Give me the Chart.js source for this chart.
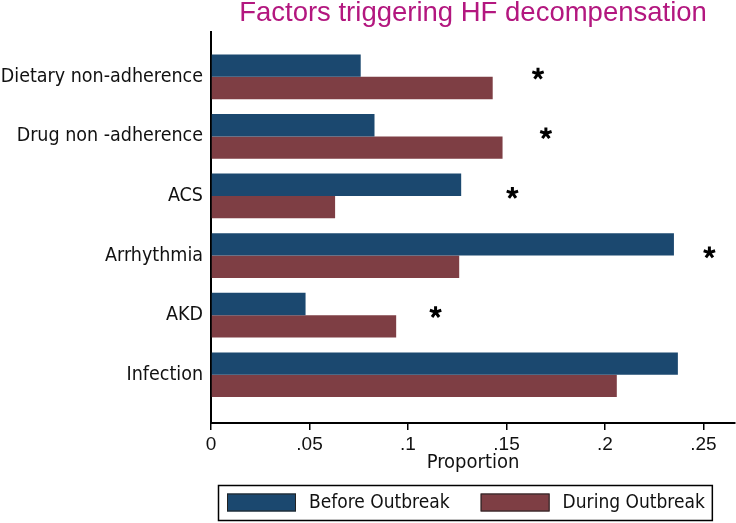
<!DOCTYPE html>
<html><head><meta charset="utf-8">
<script src="https://cdn.jsdelivr.net/npm/chart.js@4"></script>
<style>html,body{margin:0;padding:0;background:#fff}#wrap{width:736px;height:523px;position:relative}</style>
</head><body><div id="wrap"><canvas id="c" width="736" height="523"></canvas></div>
<script>
const categories = ["Dietary non-adherence", "Drug non -adherence", "ACS", "Arrhythmia", "AKD", "Infection"];
const beforeOutbreak = [0.076, 0.083, 0.127, 0.235, 0.048, 0.237];
const duringOutbreak = [0.143, 0.148, 0.063, 0.126, 0.094, 0.206];
const significanceX = [0.166, 0.170, 0.153, 0.253, 0.114, null];
const xTickValues = [0, 0.05, 0.1, 0.15, 0.2, 0.25];
const seriesNames = ["Before Outbreak", "During Outbreak"];
const chartTitle = "Factors triggering HF decompensation";
const xAxisTitle = "Proportion";

const COLORS = ["#1b486f", "#7e3e44"];
const NARROW = "'Liberation Sans Narrow', 'DejaVu Sans Condensed', 'Arial Narrow', sans-serif";
const SANS = "'Liberation Sans', Arial, sans-serif";

const starPlugin = {
  id: 'stars',
  afterDatasetsDraw(chart) {
    const xs = chart.scales.x, ys = chart.scales.y, ctx = chart.ctx;
    ctx.save();
    ctx.strokeStyle = '#000';
    ctx.lineWidth = 3;
    ctx.lineCap = 'butt';
    significanceX.forEach((v, i) => {
      if (v == null) return;
      const cx = xs.getPixelForValue(v), cy = ys.getPixelForValue(i) - 3;
      const r = 6;
      ctx.beginPath();
      for (let k = 0; k < 5; k++) {
        const a = -Math.PI / 2 + k * 2 * Math.PI / 5;
        ctx.moveTo(cx, cy);
        ctx.lineTo(cx + r * Math.cos(a), cy + r * Math.sin(a));
      }
      ctx.stroke();
    });
    ctx.restore();
  }
};

const legendPlugin = {
  id: 'boxLegend',
  afterDraw(chart) {
    const ctx = chart.ctx, ca = chart.chartArea;
    ctx.save();
    ctx.font = "19px " + NARROW;
    const sw = 69, sh = 18, padL = 9, gap = 13, itemGap = 31, padR = 7;
    const tw = seriesNames.map(s => ctx.measureText(s).width);
    const w = padL + sw + gap + tw[0] + itemGap + sw + gap + tw[1] + padR;
    const h = 35;
    const cx = (ca.left + ca.right) / 2 - 8;
    const left = Math.round(cx - w / 2), top = chart.height - 38;
    ctx.strokeStyle = '#000';
    ctx.lineWidth = 1.5;
    ctx.strokeRect(left + 0.5, top + 0.5, w, h);
    let x = left + padL;
    const my = top + h / 2;
    seriesNames.forEach((s, i) => {
      ctx.fillStyle = COLORS[i];
      ctx.fillRect(x, my - sh / 2, sw, sh);
      ctx.strokeStyle = '#222';
      ctx.lineWidth = 1;
      ctx.strokeRect(x + 0.5, my - sh / 2 + 0.5, sw - 1, sh - 1);
      x += sw + gap;
      ctx.fillStyle = '#111';
      ctx.textBaseline = 'middle';
      ctx.textAlign = 'left';
      ctx.fillText(s, x, my + 1);
      x += tw[i] + itemGap;
    });
    ctx.restore();
  }
};

const toPoints = arr => arr.map((v, i) => ({ x: v, y: i }));

new Chart(document.getElementById('c'), {
  type: 'bar',
  data: {
    datasets: [
      { label: seriesNames[0], data: toPoints(beforeOutbreak), backgroundColor: COLORS[0], borderWidth: 0 },
      { label: seriesNames[1], data: toPoints(duringOutbreak), backgroundColor: COLORS[1], borderWidth: 0 }
    ]
  },
  options: {
    indexAxis: 'y',
    responsive: false,
    animation: false,
    devicePixelRatio: 1,
    barPercentage: 1,
    categoryPercentage: 0.75,
    layout: { padding: { left: 0, right: 1, top: 0, bottom: 48 } },
    plugins: {
      legend: { display: false },
      tooltip: { enabled: false },
      title: {
        display: true, text: chartTitle, color: '#b3177f', fullSize: false,
        font: { family: SANS, size: 27.5, weight: 'normal', lineHeight: 1.0 },
        padding: { top: 0, bottom: 4 }
      }
    },
    scales: {
      x: {
        type: 'linear', min: 0, max: 0.266,
        afterBuildTicks: s => { s.ticks = xTickValues.map(v => ({ value: v })); },
        ticks: {
          color: '#111', font: { family: SANS, size: 19, lineHeight: 1 }, padding: 5, autoSkip: false, maxRotation: 0,
          callback: v => v === 0 ? '0' : String(+v.toFixed(2)).replace(/^0/, '')
        },
        grid: { display: true, drawOnChartArea: false, drawTicks: true, tickLength: 7, color: '#000', lineWidth: 1.5 },
        border: { display: true, color: '#000', width: 2 },
        title: { display: true, text: xAxisTitle, color: '#111', font: { family: NARROW, size: 20 }, padding: { top: -8, bottom: 0 } }
      },
      y: {
        type: 'linear', reverse: true, min: -0.76, max: 5.81, offset: false,
        afterBuildTicks: s => { s.ticks = categories.map((c, i) => ({ value: i })); },
        afterFit: s => { s.width = 211; },
        ticks: { color: '#111', font: { family: NARROW, size: 19.5 }, padding: 8, autoSkip: false, callback: v => categories[v] },
        grid: { display: false, drawTicks: false, offset: false },
        border: { display: true, color: '#000', width: 2 }
      }
    }
  },
  plugins: [starPlugin, legendPlugin]
});
</script></body></html>
